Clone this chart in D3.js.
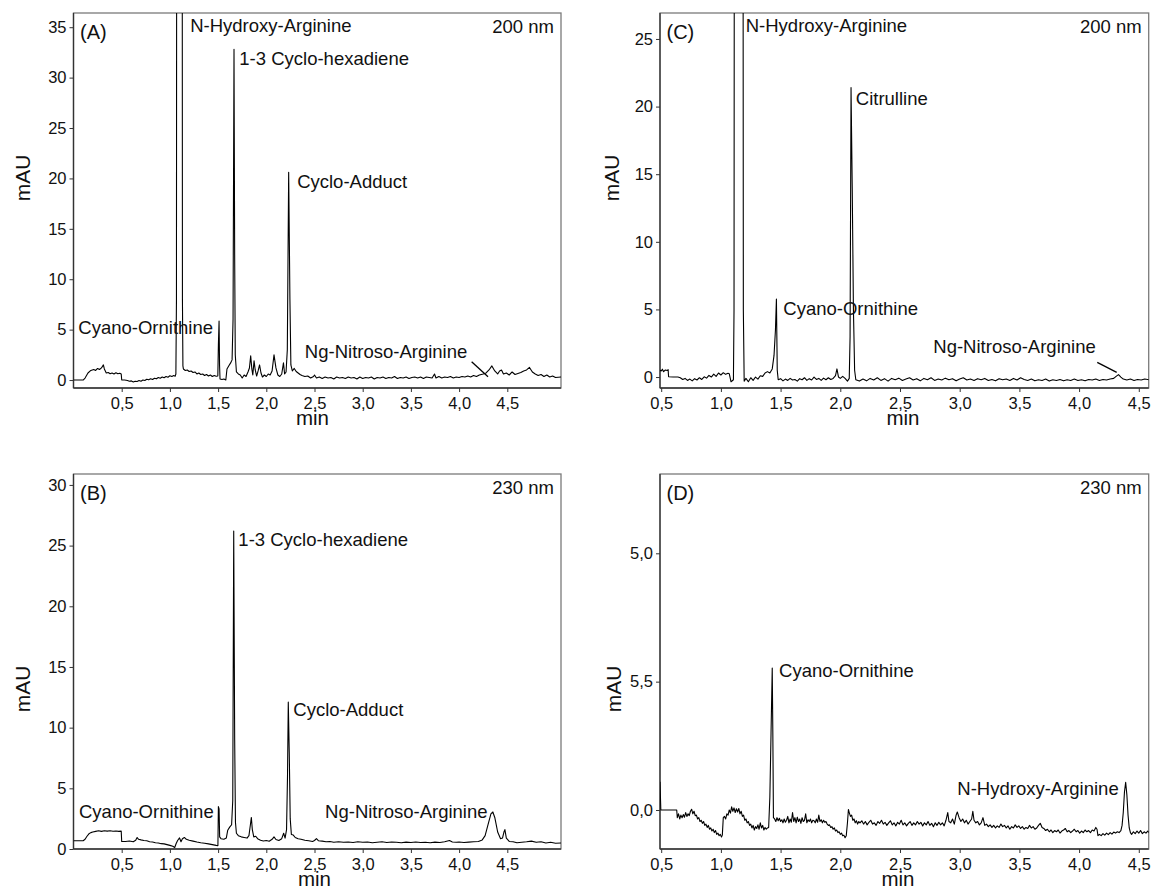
<!DOCTYPE html>
<html>
<head>
<meta charset="utf-8">
<script src="https://cdn.jsdelivr.net/npm/d3@7"></script>
<style>
  body { margin: 0; background: #fff; }
  text { font-family: "Liberation Sans", Arial, Helvetica, sans-serif; fill: #111; }
</style>
</head>
<body>
<div id="chart"></div>
<script>
var svgWidth = 1152;
var svgHeight = 890;

// chromatogram traces: [retention time (min), absorbance (mAU)]
var traceA = [[0,0],[0.1,0],[0.12,0.2],[0.15,0.7],[0.18,0.95],[0.21,1.05],[0.23,0.95],[0.25,1.15],[0.27,1.05],[0.29,1.2],[0.31,1.5],[0.32,1.1],[0.34,0.7],[0.36,0.75],[0.38,0.62],[0.4,0.7],[0.42,0.6],[0.44,0.72],[0.46,0.62],[0.48,0.68],[0.495,0.6],[0.5,0.02],[0.53,0],[0.56,-0.05],[0.58,-0.12],[0.6,-0.08],[0.62,-0.2],[0.64,-0.12],[0.66,-0.15],[0.68,-0.05],[0.7,-0.12],[0.72,0],[0.74,-0.05],[0.76,0.08],[0.78,0.02],[0.8,0.12],[0.82,0.05],[0.84,0.18],[0.86,0.12],[0.88,0.25],[0.9,0.18],[0.92,0.3],[0.94,0.22],[0.96,0.35],[0.98,0.28],[1.0,0.42],[1.02,0.35],[1.04,0.45],[1.055,0.38],[1.062,0.6],[1.068,8],[1.072,80],[1.1,150],[1.126,80],[1.13,8],[1.135,1.4],[1.14,1.1],[1.16,0.95],[1.18,1.0],[1.2,0.85],[1.22,0.9],[1.24,0.75],[1.26,0.8],[1.28,0.6],[1.3,0.7],[1.32,0.55],[1.34,0.6],[1.36,0.45],[1.38,0.55],[1.4,0.4],[1.42,0.5],[1.44,0.35],[1.46,0.45],[1.48,0.38],[1.497,0.4],[1.503,3.5],[1.51,5.85],[1.515,1.5],[1.52,0.1],[1.54,0.05],[1.56,0.1],[1.58,0.0],[1.592,1.1],[1.61,1.4],[1.63,1.7],[1.645,2.0],[1.655,6],[1.665,32.8],[1.672,12],[1.678,2.5],[1.69,0.8],[1.71,0.6],[1.73,0.5],[1.75,0.2],[1.77,0.5],[1.79,0.35],[1.81,0.8],[1.825,1.2],[1.838,2.4],[1.85,1.1],[1.86,0.5],[1.873,1.9],[1.885,1.0],[1.9,0.4],[1.915,0.9],[1.93,1.5],[1.945,0.7],[1.96,0.3],[1.98,0.5],[2.0,0.35],[2.02,0.6],[2.04,0.5],[2.06,0.9],[2.08,2.5],[2.1,1.2],[2.12,0.5],[2.14,0.35],[2.16,0.6],[2.178,1.7],[2.19,0.6],[2.205,0.8],[2.218,3],[2.232,20.6],[2.245,8],[2.255,1.5],[2.27,0.9],[2.29,1.15],[2.31,0.85],[2.33,0.7],[2.35,0.55],[2.37,0.45],[2.4,0.35],[2.43,0.4],[2.46,0.2],[2.49,0.35],[2.5,0.5],[2.52,0.2],[2.55,0.3],[2.58,0.15],[2.61,0.3],[2.64,0.2],[2.67,0.25],[2.7,0.1],[2.73,0.3],[2.76,0.2],[2.79,0.25],[2.82,0.15],[2.85,0.3],[2.88,0.2],[2.91,0.25],[2.94,0.1],[2.97,0.3],[3.0,0.15],[3.03,0.25],[3.06,0.2],[3.09,0.3],[3.12,0.1],[3.15,0.25],[3.18,0.2],[3.21,0.3],[3.24,0.15],[3.27,0.25],[3.3,0.2],[3.33,0.35],[3.36,0.15],[3.39,0.25],[3.42,0.2],[3.45,0.3],[3.48,0.15],[3.51,0.25],[3.54,0.3],[3.57,0.2],[3.6,0.3],[3.63,0.15],[3.66,0.3],[3.69,0.25],[3.72,0.2],[3.745,0.6],[3.76,0.2],[3.79,0.35],[3.82,0.2],[3.85,0.3],[3.88,0.25],[3.91,0.35],[3.94,0.2],[3.97,0.3],[4.0,0.25],[4.03,0.35],[4.06,0.3],[4.09,0.4],[4.12,0.3],[4.15,0.45],[4.18,0.35],[4.21,0.5],[4.25,0.6],[4.28,0.7],[4.31,1.0],[4.34,1.4],[4.37,0.9],[4.4,0.6],[4.42,0.9],[4.44,1.0],[4.46,0.6],[4.49,0.7],[4.52,0.5],[4.55,0.8],[4.58,0.55],[4.61,0.65],[4.64,0.75],[4.67,0.9],[4.7,1.0],[4.73,1.25],[4.76,0.8],[4.79,0.6],[4.82,0.45],[4.85,0.55],[4.88,0.35],[4.91,0.5],[4.94,0.3],[4.97,0.4],[5.0,0.25],[5.06,0.3]];

var traceB = [[0,0.68],[0.1,0.68],[0.12,0.8],[0.14,1.05],[0.16,1.25],[0.18,1.35],[0.2,1.4],[0.23,1.45],[0.26,1.5],[0.29,1.45],[0.32,1.5],[0.35,1.47],[0.38,1.5],[0.41,1.46],[0.44,1.48],[0.47,1.45],[0.495,1.47],[0.5,0.62],[0.54,0.62],[0.58,0.66],[0.62,0.6],[0.645,0.72],[0.66,0.95],[0.675,0.8],[0.7,0.75],[0.73,0.7],[0.76,0.68],[0.79,0.6],[0.82,0.58],[0.85,0.52],[0.88,0.5],[0.91,0.44],[0.94,0.42],[0.97,0.36],[1.0,0.3],[1.03,0.22],[1.05,0.12],[1.065,0.45],[1.08,0.7],[1.1,0.92],[1.115,0.6],[1.13,0.85],[1.15,0.95],[1.17,0.8],[1.2,0.72],[1.24,0.65],[1.28,0.58],[1.32,0.52],[1.36,0.48],[1.4,0.42],[1.44,0.36],[1.48,0.3],[1.498,0.28],[1.503,3.5],[1.51,3.3],[1.516,1.0],[1.53,0.85],[1.56,0.8],[1.585,0.9],[1.6,1.55],[1.62,1.8],[1.64,2.0],[1.652,4],[1.662,26.2],[1.672,9],[1.68,2.2],[1.69,1.3],[1.71,1.1],[1.74,1.0],[1.77,0.95],[1.8,0.9],[1.82,1.1],[1.835,2.0],[1.845,2.6],[1.855,1.6],[1.87,1.0],[1.89,1.05],[1.91,0.85],[1.94,0.72],[1.97,0.66],[2.0,0.7],[2.03,0.64],[2.06,0.8],[2.08,1.0],[2.1,0.78],[2.13,0.7],[2.16,0.85],[2.18,1.3],[2.195,0.9],[2.21,1.6],[2.22,6],[2.228,12.1],[2.238,8],[2.248,2.5],[2.26,1.2],[2.28,1.15],[2.3,0.95],[2.33,0.85],[2.36,0.8],[2.4,0.72],[2.44,0.68],[2.48,0.62],[2.5,0.7],[2.52,0.85],[2.54,0.68],[2.58,0.65],[2.62,0.6],[2.66,0.62],[2.7,0.56],[2.75,0.6],[2.8,0.55],[2.85,0.58],[2.9,0.54],[2.95,0.6],[3.0,0.56],[3.05,0.58],[3.1,0.52],[3.15,0.56],[3.2,0.6],[3.25,0.54],[3.3,0.58],[3.35,0.55],[3.4,0.52],[3.45,0.57],[3.5,0.53],[3.55,0.58],[3.6,0.54],[3.65,0.55],[3.7,0.52],[3.75,0.57],[3.8,0.54],[3.85,0.6],[3.9,0.7],[3.93,0.58],[3.97,0.55],[4.0,0.58],[4.05,0.54],[4.1,0.57],[4.15,0.6],[4.2,0.62],[4.24,0.75],[4.27,1.1],[4.3,2.0],[4.33,2.9],[4.35,3.05],[4.37,2.6],[4.4,1.4],[4.43,0.85],[4.45,0.9],[4.465,1.4],[4.475,1.6],[4.49,0.9],[4.52,0.62],[4.56,0.6],[4.6,0.52],[4.65,0.56],[4.7,0.6],[4.75,0.65],[4.8,0.55],[4.85,0.6],[4.9,0.5],[4.95,0.55],[5.0,0.48],[5.06,0.5]];

var traceC = [[0.49,0.5],[0.5,0.45],[0.51,0.58],[0.52,0.4],[0.535,0.52],[0.55,0.48],[0.558,0.55],[0.562,0.02],[0.6,0],[0.64,0],[0.66,-0.05],[0.68,-0.18],[0.7,-0.1],[0.72,-0.25],[0.74,-0.15],[0.76,-0.28],[0.78,-0.12],[0.8,-0.22],[0.82,-0.05],[0.84,-0.18],[0.86,0.02],[0.88,-0.08],[0.9,0.12],[0.92,0.0],[0.94,0.22],[0.96,0.05],[0.98,0.3],[1.0,0.15],[1.02,0.32],[1.04,0.2],[1.06,0.28],[1.07,0.25],[1.085,-0.35],[1.105,-0.2],[1.11,5],[1.115,70],[1.15,120],[1.183,70],[1.188,5],[1.195,-0.3],[1.21,-0.1],[1.23,-0.35],[1.25,-0.05],[1.27,-0.25],[1.29,0.0],[1.31,-0.15],[1.33,0.1],[1.35,0.05],[1.37,0.3],[1.39,0.4],[1.41,0.3],[1.43,0.6],[1.445,1.6],[1.457,3.5],[1.465,5.77],[1.472,0.5],[1.48,-0.2],[1.5,-0.12],[1.52,-0.28],[1.54,-0.15],[1.56,-0.25],[1.58,-0.1],[1.6,-0.22],[1.62,-0.18],[1.64,-0.3],[1.66,-0.12],[1.68,-0.2],[1.7,-0.05],[1.72,-0.25],[1.74,-0.12],[1.76,-0.22],[1.78,0.0],[1.8,-0.18],[1.82,-0.1],[1.84,-0.25],[1.86,-0.08],[1.88,-0.2],[1.9,-0.05],[1.92,-0.18],[1.94,-0.1],[1.96,0.1],[1.972,0.6],[1.985,0.0],[2.0,-0.1],[2.02,0.05],[2.04,-0.1],[2.06,-0.3],[2.075,-0.1],[2.082,3],[2.09,21.4],[2.1,14],[2.11,5],[2.12,0.5],[2.13,-0.2],[2.16,-0.3],[2.19,-0.15],[2.22,-0.28],[2.25,-0.1],[2.28,-0.22],[2.31,-0.05],[2.34,-0.25],[2.37,-0.12],[2.4,-0.3],[2.43,-0.1],[2.46,-0.2],[2.49,-0.08],[2.52,-0.25],[2.55,-0.15],[2.58,-0.05],[2.61,-0.22],[2.64,-0.12],[2.67,-0.28],[2.7,-0.1],[2.73,-0.2],[2.76,-0.05],[2.79,-0.25],[2.82,-0.15],[2.85,-0.22],[2.88,-0.08],[2.91,-0.2],[2.94,-0.12],[2.97,-0.28],[3.0,-0.15],[3.03,-0.05],[3.06,-0.22],[3.09,-0.15],[3.12,-0.25],[3.15,-0.12],[3.18,-0.2],[3.21,-0.1],[3.24,-0.25],[3.27,-0.18],[3.3,-0.28],[3.33,-0.12],[3.36,-0.2],[3.39,-0.15],[3.42,-0.25],[3.45,-0.1],[3.48,-0.22],[3.51,-0.05],[3.54,-0.18],[3.57,-0.25],[3.6,-0.15],[3.63,-0.28],[3.66,-0.2],[3.69,-0.25],[3.72,-0.15],[3.75,-0.3],[3.78,-0.2],[3.81,-0.25],[3.84,-0.18],[3.87,-0.28],[3.9,-0.2],[3.93,-0.25],[3.96,-0.15],[3.99,-0.25],[4.02,-0.2],[4.05,-0.28],[4.08,-0.18],[4.11,-0.22],[4.14,-0.15],[4.17,-0.25],[4.2,-0.18],[4.23,-0.22],[4.26,-0.15],[4.29,-0.1],[4.31,0.05],[4.33,0.18],[4.35,0.0],[4.37,-0.15],[4.4,-0.22],[4.43,-0.15],[4.46,-0.25],[4.49,-0.18],[4.52,-0.22],[4.55,-0.15],[4.585,-0.2]];

var traceD = [[0.49,0.11],[0.493,0.06],[0.497,0.0],[0.55,0.0],[0.63,0.0],[0.635,-0.03],[0.645,-0.015],[0.655,-0.035],[0.665,-0.02],[0.675,-0.03],[0.685,-0.018],[0.695,-0.028],[0.705,-0.01],[0.715,-0.025],[0.725,-0.015],[0.735,-0.022],[0.745,-0.005],[0.755,0.003],[0.765,-0.015],[0.775,-0.005],[0.785,-0.022],[0.795,-0.02],[0.805,-0.035],[0.815,-0.03],[0.825,-0.045],[0.835,-0.04],[0.845,-0.052],[0.855,-0.045],[0.865,-0.06],[0.875,-0.055],[0.885,-0.068],[0.895,-0.06],[0.905,-0.075],[0.915,-0.07],[0.925,-0.082],[0.935,-0.075],[0.945,-0.088],[0.955,-0.08],[0.965,-0.095],[0.975,-0.09],[0.985,-0.1],[0.995,-0.095],[1.005,-0.105],[1.012,-0.098],[1.02,-0.03],[1.03,-0.025],[1.04,-0.035],[1.05,-0.015],[1.06,-0.02],[1.07,0.0],[1.08,-0.012],[1.09,0.012],[1.1,-0.005],[1.11,0.008],[1.12,-0.01],[1.13,0.005],[1.14,-0.008],[1.15,0.006],[1.16,-0.015],[1.17,-0.005],[1.18,-0.025],[1.19,-0.02],[1.2,-0.04],[1.21,-0.035],[1.22,-0.05],[1.23,-0.045],[1.24,-0.06],[1.25,-0.055],[1.26,-0.07],[1.27,-0.06],[1.28,-0.078],[1.29,-0.065],[1.3,-0.072],[1.31,-0.058],[1.32,-0.075],[1.33,-0.05],[1.34,-0.07],[1.35,-0.06],[1.36,-0.078],[1.37,-0.068],[1.38,-0.075],[1.39,-0.07],[1.4,-0.068],[1.41,0.05],[1.42,0.3],[1.43,0.553],[1.435,0.3],[1.44,-0.03],[1.45,-0.035],[1.46,-0.045],[1.47,-0.03],[1.48,-0.042],[1.49,-0.032],[1.5,-0.045],[1.51,-0.038],[1.52,-0.05],[1.53,-0.035],[1.54,-0.048],[1.55,-0.04],[1.56,-0.025],[1.57,-0.05],[1.58,-0.035],[1.59,-0.048],[1.6,-0.01],[1.61,-0.045],[1.62,-0.03],[1.63,-0.05],[1.64,-0.028],[1.65,-0.045],[1.66,-0.035],[1.67,-0.052],[1.68,-0.03],[1.69,-0.045],[1.7,-0.04],[1.71,-0.015],[1.72,-0.05],[1.73,-0.038],[1.74,-0.045],[1.75,-0.035],[1.76,-0.05],[1.77,-0.04],[1.78,-0.042],[1.79,-0.05],[1.8,-0.035],[1.81,-0.048],[1.82,-0.02],[1.83,-0.045],[1.84,-0.038],[1.85,-0.05],[1.86,-0.04],[1.87,-0.048],[1.88,-0.045],[1.89,-0.055],[1.9,-0.06],[1.91,-0.058],[1.92,-0.068],[1.93,-0.065],[1.94,-0.075],[1.95,-0.07],[1.96,-0.082],[1.97,-0.078],[1.98,-0.088],[1.99,-0.085],[2.0,-0.095],[2.01,-0.09],[2.02,-0.1],[2.03,-0.098],[2.04,-0.108],[2.05,-0.1],[2.06,-0.05],[2.068,0.002],[2.075,-0.01],[2.085,-0.025],[2.095,-0.02],[2.105,-0.04],[2.115,-0.035],[2.125,-0.05],[2.135,-0.042],[2.145,-0.055],[2.155,-0.045],[2.165,-0.05],[2.18,-0.042],[2.195,-0.055],[2.21,-0.045],[2.225,-0.058],[2.24,-0.048],[2.255,-0.04],[2.27,-0.055],[2.285,-0.05],[2.3,-0.06],[2.315,-0.045],[2.33,-0.052],[2.345,-0.04],[2.36,-0.055],[2.375,-0.048],[2.39,-0.06],[2.405,-0.05],[2.42,-0.042],[2.435,-0.058],[2.45,-0.05],[2.465,-0.062],[2.48,-0.048],[2.495,-0.055],[2.51,-0.04],[2.525,-0.058],[2.54,-0.05],[2.555,-0.062],[2.57,-0.052],[2.585,-0.045],[2.6,-0.06],[2.615,-0.05],[2.63,-0.058],[2.645,-0.045],[2.66,-0.055],[2.675,-0.048],[2.69,-0.062],[2.705,-0.05],[2.72,-0.058],[2.735,-0.045],[2.75,-0.06],[2.765,-0.052],[2.78,-0.065],[2.795,-0.05],[2.81,-0.06],[2.825,-0.048],[2.84,-0.058],[2.855,-0.05],[2.87,-0.062],[2.885,-0.04],[2.9,-0.01],[2.91,-0.045],[2.925,-0.05],[2.94,-0.035],[2.955,-0.055],[2.97,-0.02],[2.98,-0.008],[2.995,-0.03],[3.01,-0.045],[3.025,-0.035],[3.04,-0.05],[3.055,-0.04],[3.07,-0.055],[3.085,-0.045],[3.1,-0.035],[3.11,-0.005],[3.12,-0.04],[3.135,-0.05],[3.15,-0.045],[3.165,-0.058],[3.18,-0.05],[3.195,-0.03],[3.21,-0.06],[3.225,-0.055],[3.24,-0.065],[3.255,-0.058],[3.27,-0.068],[3.285,-0.06],[3.3,-0.07],[3.315,-0.062],[3.33,-0.068],[3.345,-0.055],[3.36,-0.065],[3.375,-0.06],[3.39,-0.07],[3.405,-0.062],[3.42,-0.075],[3.435,-0.065],[3.45,-0.07],[3.465,-0.058],[3.48,-0.068],[3.495,-0.062],[3.51,-0.072],[3.525,-0.065],[3.54,-0.075],[3.555,-0.068],[3.57,-0.072],[3.585,-0.06],[3.6,-0.07],[3.615,-0.065],[3.63,-0.075],[3.645,-0.07],[3.66,-0.06],[3.675,-0.052],[3.69,-0.068],[3.705,-0.072],[3.72,-0.08],[3.735,-0.075],[3.75,-0.085],[3.765,-0.078],[3.78,-0.088],[3.795,-0.08],[3.81,-0.085],[3.825,-0.078],[3.84,-0.09],[3.855,-0.082],[3.87,-0.078],[3.885,-0.072],[3.9,-0.085],[3.915,-0.08],[3.93,-0.088],[3.945,-0.082],[3.96,-0.075],[3.975,-0.085],[3.99,-0.08],[4.005,-0.09],[4.02,-0.082],[4.035,-0.088],[4.05,-0.078],[4.065,-0.085],[4.08,-0.08],[4.095,-0.088],[4.11,-0.078],[4.125,-0.082],[4.14,-0.068],[4.15,-0.075],[4.158,-0.1],[4.17,-0.095],[4.185,-0.1],[4.2,-0.092],[4.215,-0.098],[4.23,-0.09],[4.245,-0.096],[4.26,-0.088],[4.275,-0.094],[4.29,-0.086],[4.305,-0.09],[4.32,-0.085],[4.335,-0.088],[4.35,-0.08],[4.36,-0.06],[4.37,-0.01],[4.38,0.07],[4.39,0.108],[4.4,0.06],[4.41,-0.02],[4.42,-0.07],[4.43,-0.088],[4.44,-0.095],[4.455,-0.085],[4.47,-0.092],[4.485,-0.082],[4.5,-0.09],[4.515,-0.08],[4.53,-0.092],[4.545,-0.085],[4.56,-0.09],[4.575,-0.082],[4.585,-0.088]];

// tick values and labels
var xTicks = [0.5, 1.0, 1.5, 2.0, 2.5, 3.0, 3.5, 4.0, 4.5];
var yTicksA = [0, 5, 10, 15, 20, 25, 30, 35];
var yTicksB = [0, 5, 10, 15, 20, 25, 30];
var yTicksC = [0, 5, 10, 15, 20, 25];
var yTicksD = [0, 0.5, 1.0];
var yTickLabelsD = ["0,0", "5,5", "5,0"];

// peak names and where they sit (time, mAU)
var peaksA = [
  {name: "N-Hydroxy-Arginine", t: 1.21, v: 34.55},
  {name: "1-3 Cyclo-hexadiene", t: 1.72, v: 31.25},
  {name: "Cyclo-Adduct", t: 2.32, v: 19.05},
  {name: "Cyano-Ornithine", t: 0.05, v: 4.56},
  {name: "Ng-Nitroso-Arginine", t: 2.40, v: 2.18}
];
var peaksB = [
  {name: "1-3 Cyclo-hexadiene", t: 1.71, v: 25.0},
  {name: "Cyclo-Adduct", t: 2.28, v: 10.95},
  {name: "Cyano-Ornithine", t: 0.057, v: 2.55},
  {name: "Ng-Nitroso-Arginine", t: 2.61, v: 2.55}
];
var peaksC = [
  {name: "N-Hydroxy-Arginine", t: 1.208, v: 25.54},
  {name: "Citrulline", t: 2.13, v: 20.12},
  {name: "Cyano-Ornithine", t: 1.523, v: 4.59},
  {name: "Ng-Nitroso-Arginine", t: 2.779, v: 1.78}
];
var peaksD = [
  {name: "Cyano-Ornithine", t: 1.487, v: 0.518},
  {name: "N-Hydroxy-Arginine", t: 2.98, v: 0.058}
];
var leaderA = [[4.13, 1.82], [4.30, 0.33]];
var leaderC = [[4.152, 1.09], [4.315, 0.35]];

var svg = d3.select("#chart")
  .append("svg")
  .attr("width", svgWidth)
  .attr("height", svgHeight)
  .style("background", "#fff");

var commaFmt = d => d3.format(".1f")(d).replace(".", ",");

var panels = [
  {id: "A", left: 73.5, top: 13, width: 487.5, height: 375, xDomain: [0, 5.057], yDomain: [-0.79, 36.41],
   trace: traceA, yTicks: yTicksA, yFmt: d3.format("d"), peaks: peaksA, leader: leaderA, nm: "200 nm",
   titleX: 22.5, titleY: 178, minX: 239},
  {id: "B", left: 73.5, top: 474, width: 487.5, height: 375, xDomain: [0, 5.057], yDomain: [0, 30.9],
   trace: traceB, yTicks: yTicksB, yFmt: d3.format("d"), peaks: peaksB, leader: null, nm: "230 nm",
   titleX: 22.5, titleY: 689, minX: 241},
  {id: "C", left: 660, top: 13, width: 488.7, height: 375, xDomain: [0.49, 4.583], yDomain: [-0.81, 26.92],
   trace: traceC, yTicks: yTicksC, yFmt: d3.format("d"), peaks: peaksC, leader: leaderC, nm: "200 nm",
   titleX: 611.5, titleY: 178, minX: 243},
  {id: "D", left: 660, top: 474, width: 488.7, height: 375, xDomain: [0.49, 4.583], yDomain: [-0.152, 1.309],
   trace: traceD, yTicks: yTicksD, yFmt: (d, i) => yTickLabelsD[i], peaks: peaksD, leader: null, nm: "230 nm",
   titleX: 613, titleY: 689, minX: 238}
];

panels.forEach(drawPanel);

function drawPanel(p) {
  var x = d3.scaleLinear().domain(p.xDomain).range([0, p.width]);
  var y = d3.scaleLinear().domain(p.yDomain).range([p.height, 0]);

  var g = svg.append("g")
    .attr("transform", `translate(${p.left},${p.top})`);

  g.append("clipPath")
    .attr("id", "clip" + p.id)
    .append("rect")
    .attr("width", p.width)
    .attr("height", p.height);

  // frame: light top/right, darker axes
  g.append("rect")
    .attr("width", p.width)
    .attr("height", p.height)
    .attr("fill", "none")
    .attr("stroke", "#7a7a7a")
    .attr("stroke-width", 1.3);

  var xAxis = d3.axisBottom(x)
    .tickValues(xTicks)
    .tickFormat(commaFmt)
    .tickSize(4)
    .tickPadding(5);
  var yAxis = d3.axisLeft(y)
    .tickValues(p.yTicks)
    .tickFormat(p.yFmt)
    .tickSize(4)
    .tickPadding(3);

  var xg = g.append("g")
    .attr("transform", `translate(0,${p.height})`)
    .call(xAxis);
  var yg = g.append("g").call(yAxis);

  [xg, yg].forEach(a => {
    a.select(".domain").remove();
    a.selectAll("line").attr("stroke", "#333");
    a.selectAll("text")
      .attr("fill", "#111")
      .style("font-size", "16.5px")
      .style("font-family", "'Liberation Sans', Arial, Helvetica, sans-serif");
  });

  g.append("line")
    .attr("x1", 0).attr("x2", 0)
    .attr("y1", 0).attr("y2", p.height)
    .attr("stroke", "#333").attr("stroke-width", 1.3);
  g.append("line")
    .attr("x1", 0).attr("x2", p.width)
    .attr("y1", p.height).attr("y2", p.height)
    .attr("stroke", "#333").attr("stroke-width", 1.3);

  // the chromatogram
  var line = d3.line()
    .x(d => x(d[0]))
    .y(d => y(d[1]));

  g.append("path")
    .datum(p.trace)
    .attr("clip-path", `url(#clip${p.id})`)
    .attr("d", line)
    .attr("fill", "none")
    .attr("stroke", "#000")
    .attr("stroke-width", 1.1)
    .attr("stroke-linejoin", "round");

  // peak labels
  g.selectAll(".peak")
    .data(p.peaks)
    .enter()
    .append("text")
    .attr("class", "peak")
    .attr("x", d => x(d.t))
    .attr("y", d => y(d.v))
    .style("font-size", "18.5px")
    .text(d => d.name);

  if (p.leader) {
    g.append("line")
      .attr("x1", x(p.leader[0][0])).attr("y1", y(p.leader[0][1]))
      .attr("x2", x(p.leader[1][0])).attr("y2", y(p.leader[1][1]))
      .attr("stroke", "#000")
      .attr("stroke-width", 1.3);
  }

  // panel letter and wavelength
  g.append("text")
    .attr("x", 6.5)
    .attr("y", 26)
    .style("font-size", "20px")
    .text("(" + p.id + ")");

  g.append("text")
    .attr("x", p.width - 7)
    .attr("y", 20)
    .attr("text-anchor", "end")
    .style("font-size", "18.5px")
    .text(p.nm);

  // axis titles
  g.append("text")
    .attr("x", p.minX)
    .attr("y", p.height + 37)
    .attr("text-anchor", "middle")
    .style("font-size", "20.5px")
    .text("min");

  svg.append("text")
    .attr("transform", `translate(${p.titleX + 7.5},${p.titleY})rotate(-90)`)
    .attr("text-anchor", "middle")
    .style("font-size", "21px")
    .text("mAU");
}
</script>
</body>
</html>
